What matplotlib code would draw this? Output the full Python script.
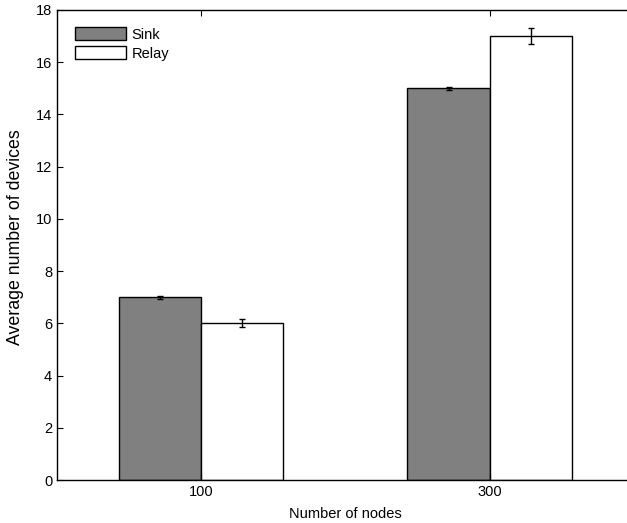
import matplotlib
matplotlib.use("Agg")
import matplotlib.pyplot as plt
import numpy as np

plt.rcParams["font.family"] = ["Liberation Sans", "DejaVu Sans"]

categories = ["100", "300"]
sink = [7.0, 15.0]
sink_err = [0.05, 0.05]
relay = [6.0, 17.0]
relay_err = [0.15, 0.3]

fig = plt.figure(figsize=(6.27, 5.23), dpi=100)
ax = fig.add_axes([0.091, 0.082, 0.92, 0.899])

x = np.arange(1, len(categories) + 1)
w = 0.285
ax.bar(x - w / 2, sink, w, color="#808080", edgecolor="black", linewidth=1.0, label="Sink")
ax.bar(x + w / 2, relay, w, color="white", edgecolor="black", linewidth=1.0, label="Relay")
ax.errorbar(x - w / 2, sink, yerr=sink_err, fmt="none", ecolor="black", elinewidth=1.0, capsize=2.5, capthick=1.0)
ax.errorbar(x + w / 2, relay, yerr=relay_err, fmt="none", ecolor="black", elinewidth=1.0, capsize=2.5, capthick=1.0)

ax.set_xlim(0.5, 2.5)
ax.set_ylim(0, 18)
ax.set_xticks(x)
ax.set_xticklabels(categories)
ax.set_yticks(range(0, 19, 2))
ax.tick_params(direction="in", top=True, right=False, labelsize=10.5, length=4)
for s in ax.spines.values():
    s.set_linewidth(1.0)

ax.set_xlabel("Number of nodes", fontsize=10.5, labelpad=6)
ax.set_ylabel("Average number of devices", fontsize=12.8)
ax.yaxis.set_label_coords(-0.058, 0.517)

ax.legend(loc="upper left", frameon=False, fontsize=10.5, handlelength=3.5, handleheight=1.0,
          handletextpad=0.4, labelspacing=0.3, borderaxespad=0.8)

fig.savefig("out.png", dpi=100)
